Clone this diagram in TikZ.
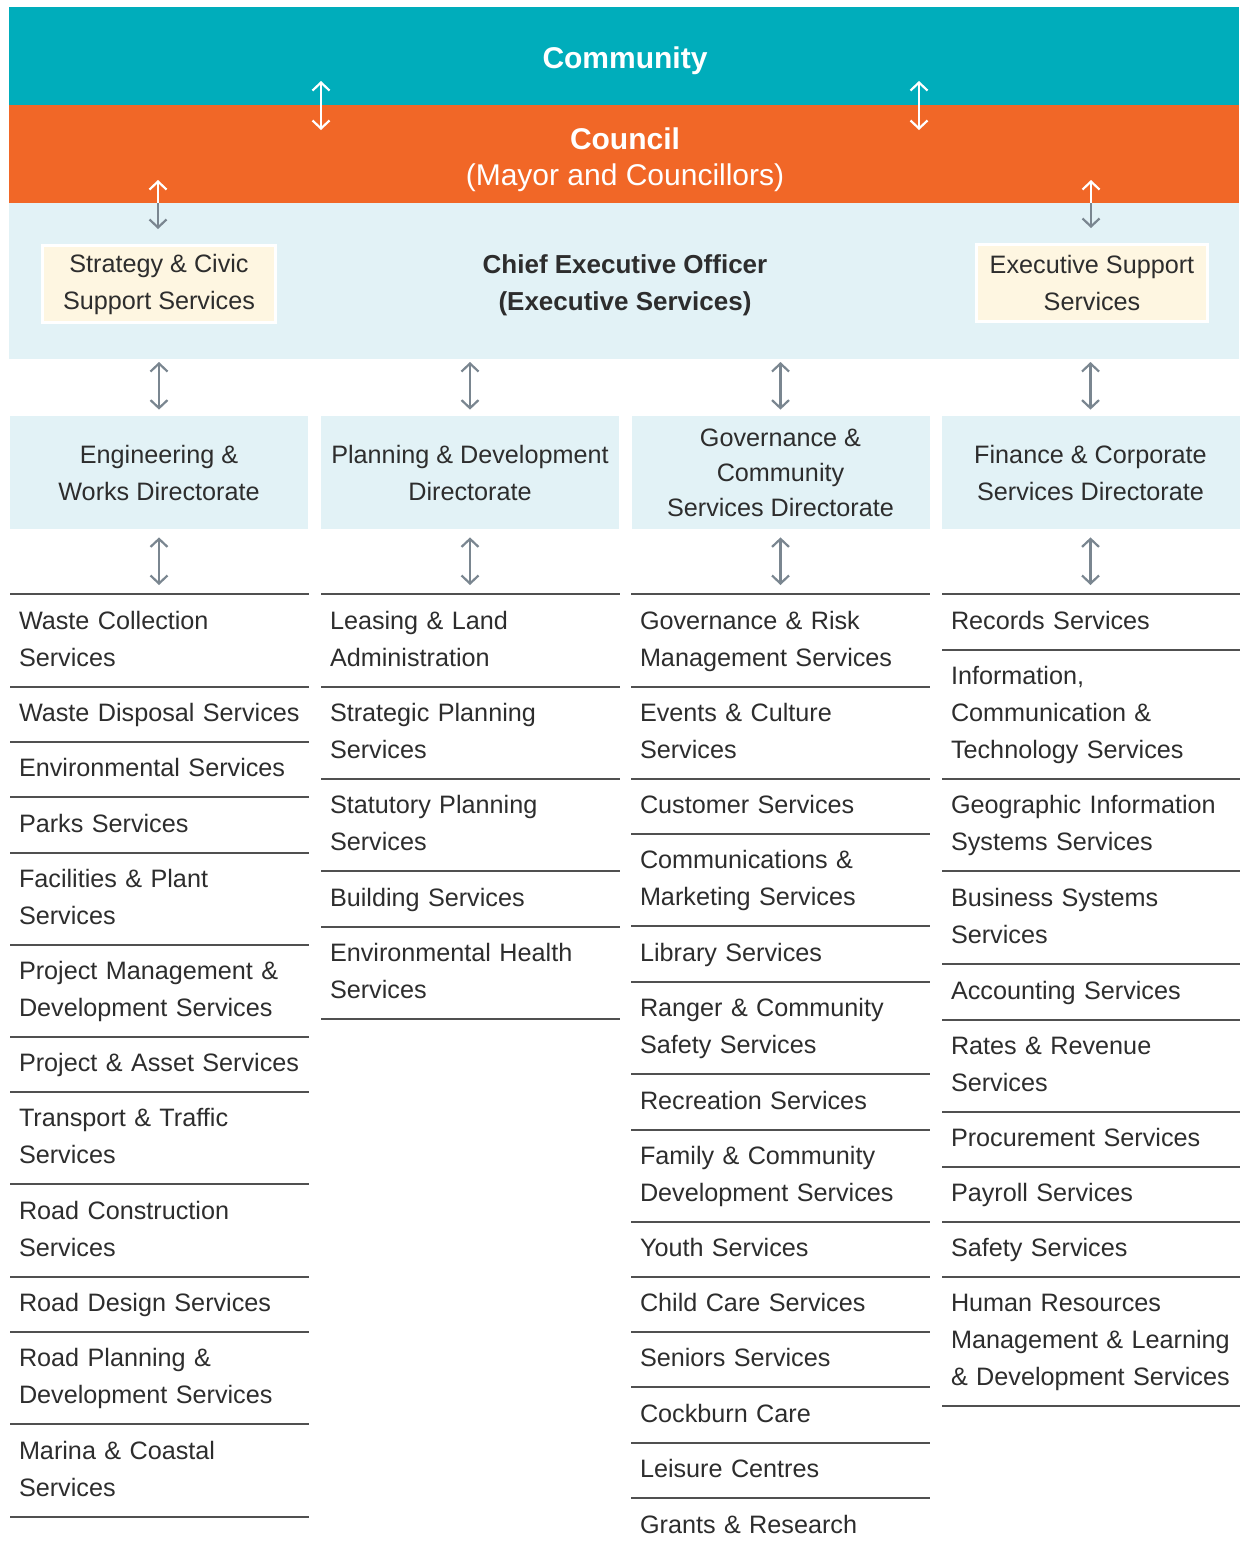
\documentclass[tikz,border=0pt]{standalone}
\usepackage{fontspec}
\setmainfont{Liberation Sans}
\usepackage{tikz}
\usetikzlibrary{arrows.meta}

\definecolor{commteal}{RGB}{0,173,187}
\definecolor{cncorange}{RGB}{241,103,39}
\definecolor{paleblue}{RGB}{226,242,246}
\definecolor{paleyellow}{RGB}{254,246,225}
\definecolor{ink}{RGB}{45,45,45}
\definecolor{rulegray}{RGB}{80,80,80}
\definecolor{arrowgray}{RGB}{122,134,144}

\newcommand{\svcfont}{\fontsize{12.6}{18.5}\selectfont}
\newcommand{\bandfont}{\fontsize{15}{18}\selectfont}
\newcommand{\ceofont}{\fontsize{13}{18.5}\selectfont\bfseries}

\begin{document}
\begin{tikzpicture}[x=0.5pt,y=-0.5pt,
  >={Straight Barb[length=4pt,width=8.5pt]},
  band/.style={minimum width=615pt,inner sep=0pt,outer sep=0pt},
  bandtext/.style={inner sep=0pt,align=center},
  yellowbox/.style={fill=paleyellow,draw=white,line width=1.5pt,minimum width=116.5pt,
    minimum height=38.5pt,inner sep=0pt,align=center,font=\svcfont,text=ink},
  dirbox/.style={fill=paleblue,minimum width=149pt,minimum height=56.5pt,inner sep=0pt,
    align=center,font=\svcfont,text=ink},
  entry/.style={anchor=north west,inner xsep=4.5pt,inner ysep=0pt,outer sep=0pt,
    text width=140.5pt,align=left,font=\svcfont,text=ink,minimum height=27.75pt,
    execute at begin node=\strut,execute at end node=\strut},
  svc/.style={entry,append after command={(\tikzlastnode.south west) edge[rule] (\tikzlastnode.south east)}},
  two/.style={minimum height=46.25pt},
  three/.style={minimum height=64.75pt},
  rule/.style={draw=rulegray,line width=1pt},
  link/.style={<->,draw=arrowgray,line width=1.1pt}]

  \useasboundingbox (0,0) rectangle (1239,1549);

  % Bands
  \node[band,fill=commteal,minimum height=49pt] (comm) at (624,56) {};
  \node[band,fill=cncorange,minimum height=49pt] (cnl) at (624,154) {};
  \node[band,fill=paleblue,minimum height=78pt] (ceo) at (624,281) {};
  \node[bandtext,text=white,font=\bandfont\bfseries] (commtxt) at (625,61) {Community};
  \node[bandtext,text=white,font=\bandfont] (cnltxt) at (625,160)
    {{\bfseries Council}\\(Mayor and Councillors)};
  \node[bandtext,text=ink,font=\ceofont] (ceotxt) at (625,285)
    {Chief Executive Officer\\(Executive Services)};

  \node[yellowbox] (strat) at (159,284) {Strategy \& Civic\\Support Services};
  \node[yellowbox,minimum width=115.5pt] (exsup) at (1092,283) {Executive Support\\Services};

  % Directorates
  \node[dirbox] (eng) at (159,472.5) {Engineering \&\\Works Directorate};
  \node[dirbox] (plan) at (470,472.5) {Planning \& Development\\Directorate};
  \node[dirbox,font=\fontsize{12.6}{17.5}\selectfont] (gov) at (780.5,472.5) {Governance \&\\Community\\Services Directorate};
  \node[dirbox] (fin) at (1090.5,472.5) {Finance \& Corporate\\Services Directorate};

  % Engineering & Works
  \node[svc,two] (wc) at (10,594) {Waste Collection\\Services};
  \node[svc] (wd) at (10,686) {Waste Disposal Services};
  \node[svc] (env) at (10,741) {Environmental Services};
  \node[svc] (parks) at (10,797) {Parks Services};
  \node[svc,two] (fac) at (10,852) {Facilities \& Plant\\Services};
  \node[svc,two] (pm) at (10,944) {Project Management \&\\Development Services};
  \node[svc] (pa) at (10,1036) {Project \& Asset Services};
  \node[svc,two] (tt) at (10,1091) {Transport \& Traffic\\Services};
  \node[svc,two] (rc) at (10,1184) {Road Construction\\Services};
  \node[svc] (rd) at (10,1276) {Road Design Services};
  \node[svc,two] (rp) at (10,1331) {Road Planning \&\\Development Services};
  \node[svc,two] (mc) at (10,1424) {Marina \& Coastal\\Services};

  % Planning & Development
  \node[svc,two] (lease) at (321,594) {Leasing \& Land\\Administration};
  \node[svc,two] (strp) at (321,686) {Strategic Planning\\Services};
  \node[svc,two] (stat) at (321,778) {Statutory Planning\\Services};
  \node[svc] (bld) at (321,871) {Building Services};
  \node[svc,two] (envh) at (321,926) {Environmental Health\\Services};

  % Governance & Community Services
  \node[svc,two] (grm) at (631,594) {Governance \& Risk\\Management Services};
  \node[svc,two] (evc) at (631,686) {Events \& Culture\\Services};
  \node[svc] (cust) at (631,778) {Customer Services};
  \node[svc,two] (comms) at (631,833) {Communications \&\\Marketing Services};
  \node[svc] (lib) at (631,926) {Library Services};
  \node[svc,two] (rng) at (631,981) {Ranger \& Community\\Safety Services};
  \node[svc] (recr) at (631,1074) {Recreation Services};
  \node[svc,two] (fam) at (631,1129) {Family \& Community\\Development Services};
  \node[svc] (yth) at (631,1221) {Youth Services};
  \node[svc] (cc) at (631,1276) {Child Care Services};
  \node[svc] (sen) at (631,1331) {Seniors Services};
  \node[svc] (cbc) at (631,1387) {Cockburn Care};
  \node[svc] (leis) at (631,1442) {Leisure Centres};
  \node[entry] (grants) at (631,1498) {Grants \& Research};

  % Finance & Corporate Services
  \node[svc] (rec) at (942,594) {Records Services};
  \node[svc,three] (ict) at (942,649) {Information,\\Communication \&\\Technology Services};
  \node[svc,two] (gis) at (942,778) {Geographic Information\\Systems Services};
  \node[svc,two] (bss) at (942,871) {Business Systems\\Services};
  \node[svc] (acc) at (942,964) {Accounting Services};
  \node[svc,two] (rates) at (942,1019) {Rates \& Revenue\\Services};
  \node[svc] (proc) at (942,1111) {Procurement Services};
  \node[svc] (pay) at (942,1166) {Payroll Services};
  \node[svc] (saf) at (942,1221) {Safety Services};
  \node[svc,three] (hr) at (942,1276) {Human Resources\\Management \& Learning\\\& Development Services};

  \draw[rule] (wc.north west) -- (wc.north east);
  \draw[rule] (lease.north west) -- (lease.north east);
  \draw[rule] (grm.north west) -- (grm.north east);
  \draw[rule] (rec.north west) -- (rec.north east);

  % Arrows
  \coordinate (ctop1) at (321,81);
  \coordinate (cbot1) at (321,130);
  \coordinate (ctop2) at (919,81);
  \coordinate (cbot2) at (919,130);
  \draw[link,draw=white] (ctop1) -- (cbot1);
  \draw[link,draw=white] (ctop2) -- (cbot2);

  \coordinate (ktop1) at (158,180);
  \coordinate (ktop2) at (1091,180);
  \draw[link,draw=white,<-] (ktop1) -- (ktop1 |- cnl.south);
  \draw[link,->,shorten >=7.5pt] (ktop1 |- cnl.south) -- (ktop1 |- strat.north);
  \draw[link,draw=white,<-] (ktop2) -- (ktop2 |- cnl.south);
  \draw[link,->,shorten >=7.5pt] (ktop2 |- cnl.south) -- (ktop2 |- exsup.north);

  \draw[link,shorten <=1.5pt,shorten >=3pt] (eng.north |- ceo.south) -- (eng.north);
  \draw[link,shorten <=1.5pt,shorten >=3pt] (plan.north |- ceo.south) -- (plan.north);
  \draw[link,shorten <=1.5pt,shorten >=3pt] (gov.north |- ceo.south) -- (gov.north);
  \draw[link,shorten <=1.5pt,shorten >=3pt] (fin.north |- ceo.south) -- (fin.north);

  \draw[link,shorten <=4pt,shorten >=4.5pt] (eng.south) -- (eng.south |- wc.north);
  \draw[link,shorten <=4pt,shorten >=4.5pt] (plan.south) -- (plan.south |- lease.north);
  \draw[link,shorten <=4pt,shorten >=4.5pt] (gov.south) -- (gov.south |- grm.north);
  \draw[link,shorten <=4pt,shorten >=4.5pt] (fin.south) -- (fin.south |- rec.north);

\end{tikzpicture}
\end{document}
